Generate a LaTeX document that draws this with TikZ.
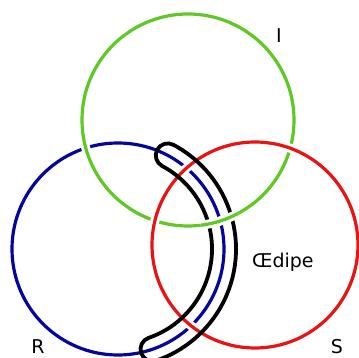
\documentclass[tikz,border=0pt]{standalone}
\usepackage{fontspec}
\setmainfont{DejaVu Sans}
\usetikzlibrary{calc}
\definecolor{myblue}{RGB}{5,5,155}
\definecolor{mygreen}{RGB}{95,200,35}
\definecolor{myred}{RGB}{232,20,20}
\begin{document}
\begin{tikzpicture}[x=1pt,y=1pt,
  ring/.style={line width=3.2pt},
  halo/.style={white,line width=9pt},
  bandline/.style={black,line width=3.8pt,line join=round},
  lbl/.style={font=\fontsize{19}{19}\selectfont, inner sep=0pt}]
\useasboundingbox (0,0) rectangle (359,358);
\coordinate (cI) at (188,238);
\coordinate (cR) at (118,109);
\coordinate (cS) at (255,113);
% blue (R)
\draw[ring, myblue] (cR) circle[radius=106];
% green (I)
\draw[halo] (cI) circle[radius=106];
\draw[ring, mygreen] (cI) circle[radius=106];
% red (S)
\draw[halo] (cS) circle[radius=103];
\draw[ring, myred] (cS) circle[radius=103];
% black band along the blue arc
\draw[bandline] ($(cR)+(62:118)$)
  arc[start angle=62, end angle=-71, radius=118]
  arc[start angle=-71, end angle=-251, radius=12]
  arc[start angle=-71, end angle=62, radius=94]
  arc[start angle=242, end angle=62, radius=12] -- cycle;
% green passes over the band
\begin{scope}
\clip (220,137) circle[radius=20];
\draw[halo] (cI) circle[radius=106];
\draw[ring, mygreen] (cI) circle[radius=106];
\end{scope}
% labels
\node[lbl, anchor=base] (I) at (279,315) {I};
\node[lbl, anchor=base] (R) at (38,4.5) {R};
\node[lbl, anchor=base] (S) at (337,4.5) {S};
\node[lbl, anchor=base west] (oe) at (252,90) {Œdipe};
\end{tikzpicture}
\end{document}
